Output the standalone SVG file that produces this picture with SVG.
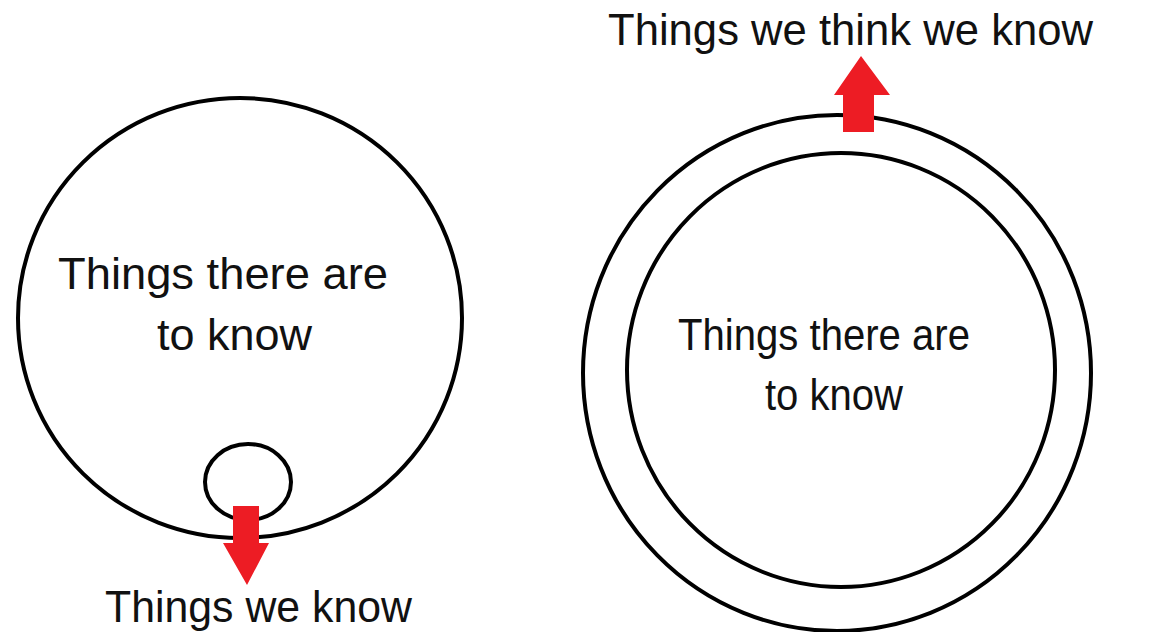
<svg xmlns="http://www.w3.org/2000/svg" width="1161" height="632" viewBox="0 0 1161 632">
<style>
.ring{fill:none;stroke:#000;stroke-width:4}
.lbl{font-family:"Liberation Sans",Arial,sans-serif;font-size:44px;fill:#111}
.arrow{fill:#ED1C24}
</style>
<rect width="1161" height="632" fill="#fff"/>
<g id="left-world">
<ellipse class="ring" cx="240" cy="318" rx="222" ry="220"/>
<text class="lbl" x="58" y="289" textLength="330" lengthAdjust="spacingAndGlyphs">Things there are</text>
<text class="lbl" x="157" y="350" textLength="155" lengthAdjust="spacingAndGlyphs">to know</text>
</g>
<g id="known">
<ellipse class="ring" cx="248" cy="482" rx="43" ry="38"/>
</g>
<g id="right-outer">
<ellipse class="ring" cx="837" cy="373" rx="254" ry="258"/>
</g>
<g id="right-inner">
<ellipse class="ring" cx="841" cy="370" rx="214" ry="217"/>
<text class="lbl" x="678" y="350" textLength="292" lengthAdjust="spacingAndGlyphs">Things there are</text>
<text class="lbl" x="765" y="410" textLength="138" lengthAdjust="spacingAndGlyphs">to know</text>
</g>
<g id="connectors">
<path class="arrow" d="M233 506 H259 V543 H269 L247 585 L223 543 H233 Z"/>
<path class="arrow" d="M843 132 V95 H834 L861 56 L890 95 H874 V132 Z"/>
</g>
<g id="label-top">
<text class="lbl" x="608" y="45" textLength="485" lengthAdjust="spacingAndGlyphs">Things we think we know</text>
</g>
<g id="label-bottom">
<text class="lbl" x="105" y="622" textLength="307" lengthAdjust="spacingAndGlyphs">Things we know</text>
</g>
</svg>
